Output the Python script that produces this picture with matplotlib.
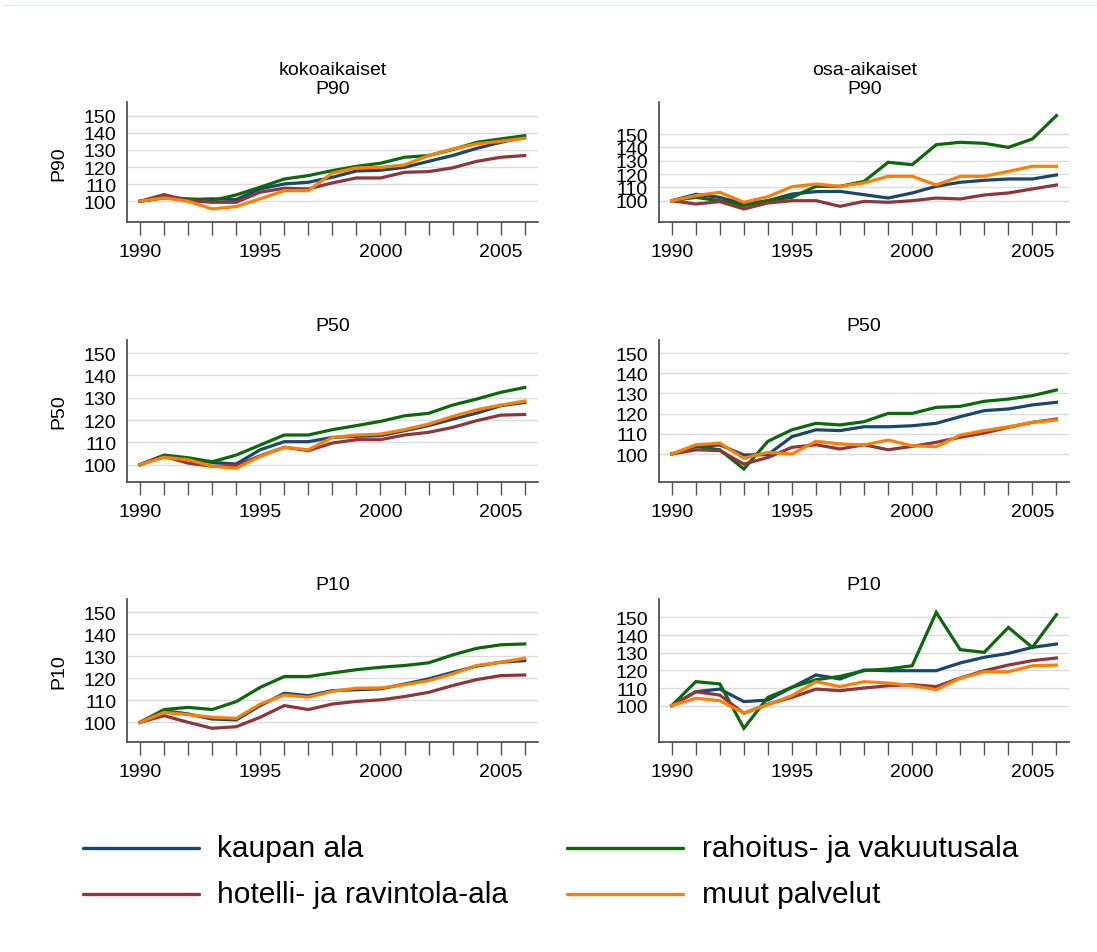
import matplotlib
matplotlib.use("Agg")
import matplotlib.pyplot as plt
from matplotlib.lines import Line2D

plt.rcParams['font.family'] = ['Liberation Sans', 'DejaVu Sans']

years = list(range(1990, 2007))

series_names = ["kaupan ala", "rahoitus- ja vakuutusala", "hotelli- ja ravintola-ala", "muut palvelut"]
colors = ["#1a476f", "#0a6a0a", "#90353b", "#ff8000"]

# kokoaikaiset (full-time)
full_p90_kaupan = [100, 102.0, 101.0, 101.4, 101.0, 107.2, 110.1, 111.1, 114.0, 117.7, 118.1, 119.8, 123.3, 126.7, 130.9, 134.4, 137.4]
full_p90_rahoitus = [100, 102.3, 101.4, 100.4, 103.7, 108.2, 113.0, 115.0, 117.9, 120.4, 122.2, 125.7, 126.7, 130.2, 134.4, 136.4, 138.3]
full_p90_hotelli = [100, 103.9, 100.4, 99.4, 99.4, 105.3, 107.6, 107.2, 110.7, 113.6, 113.6, 116.9, 117.3, 119.5, 123.3, 125.7, 126.7]
full_p90_muut = [100, 102.0, 100.0, 95.5, 96.9, 101.4, 106.2, 106.2, 116.5, 119.5, 119.8, 121.2, 126.7, 130.5, 133.5, 135.0, 136.8]

full_p50_kaupan = [100, 104.0, 102.5, 101.0, 100.3, 106.7, 110.3, 110.3, 112.2, 112.7, 113.0, 115.2, 117.5, 120.4, 123.1, 126.4, 127.9]
full_p50_rahoitus = [100, 104.3, 103.1, 101.3, 104.3, 108.8, 113.3, 113.3, 115.7, 117.5, 119.4, 121.9, 123.0, 126.7, 129.4, 132.4, 134.6]
full_p50_hotelli = [100, 103.7, 100.7, 99.3, 99.6, 104.0, 107.8, 106.3, 109.7, 111.2, 111.2, 113.3, 114.5, 116.7, 119.7, 122.2, 122.5]
full_p50_muut = [100, 103.3, 102.2, 99.3, 98.4, 103.7, 107.8, 106.7, 112.2, 113.3, 113.7, 115.7, 118.2, 121.6, 124.6, 126.7, 128.5]

full_p10_kaupan = [100, 105.3, 103.8, 101.5, 101.1, 107.6, 113.2, 112.1, 114.4, 114.8, 115.2, 117.4, 119.7, 122.7, 125.5, 127.3, 128.0]
full_p10_rahoitus = [100, 105.8, 106.8, 105.8, 109.4, 115.9, 120.8, 120.8, 122.4, 123.9, 125.0, 125.8, 127.0, 130.6, 133.6, 135.2, 135.6]
full_p10_hotelli = [100, 103.0, 100.0, 97.3, 98.0, 102.3, 107.6, 105.8, 108.3, 109.5, 110.2, 111.7, 113.6, 116.7, 119.4, 121.2, 121.5]
full_p10_muut = [100, 104.5, 103.5, 102.3, 101.8, 108.3, 112.4, 111.4, 114.1, 115.5, 115.6, 117.1, 118.9, 122.0, 125.8, 127.3, 129.1]

# osa-aikaiset (part-time)
part_p90_kaupan = [100, 104.8, 102.5, 97.5, 100.0, 105.0, 106.8, 107.0, 104.5, 102.0, 105.8, 110.8, 113.8, 115.3, 116.3, 116.3, 119.3]
part_p90_rahoitus = [100, 102.5, 100.0, 96.3, 100.0, 102.5, 110.8, 110.8, 114.5, 128.8, 127.0, 142.0, 143.8, 143.0, 140.0, 146.3, 163.8]
part_p90_hotelli = [100, 97.5, 99.3, 93.8, 98.3, 100.0, 100.0, 95.8, 99.5, 98.8, 100.0, 102.0, 101.3, 104.3, 105.8, 108.8, 111.8]
part_p90_muut = [100, 103.8, 106.3, 98.8, 103.0, 110.5, 112.5, 110.8, 113.3, 118.3, 118.3, 111.8, 118.3, 118.3, 122.0, 125.8, 125.8]

part_p50_kaupan = [100, 103.8, 104.5, 99.5, 99.7, 108.6, 112.0, 111.6, 113.5, 113.5, 114.0, 115.2, 118.5, 121.5, 122.3, 124.3, 125.6]
part_p50_rahoitus = [100, 103.8, 102.1, 92.6, 106.3, 112.0, 115.2, 114.4, 116.0, 120.1, 120.1, 123.1, 123.6, 126.1, 127.2, 128.9, 131.7]
part_p50_hotelli = [100, 102.1, 101.7, 95.0, 98.3, 103.3, 104.6, 102.5, 104.6, 102.1, 103.8, 105.8, 108.3, 110.4, 113.2, 115.7, 117.3]
part_p50_muut = [100, 104.6, 105.4, 97.9, 100.8, 100.0, 106.3, 105.0, 104.5, 106.9, 104.1, 103.6, 109.4, 111.6, 113.5, 115.7, 116.8]

part_p10_kaupan = [100, 107.9, 109.4, 102.3, 103.2, 110.4, 117.4, 115.1, 120.2, 119.8, 119.8, 119.8, 124.2, 127.4, 129.6, 133.0, 134.9]
part_p10_rahoitus = [100, 113.6, 112.3, 87.2, 104.7, 110.4, 114.7, 116.6, 119.8, 120.8, 122.6, 152.8, 131.7, 130.2, 144.3, 133.0, 151.5]
part_p10_hotelli = [100, 107.9, 106.0, 95.7, 100.9, 104.7, 109.4, 108.5, 110.0, 111.3, 111.9, 110.8, 115.7, 119.8, 123.0, 125.5, 127.0]
part_p10_muut = [100, 104.2, 102.8, 95.8, 100.6, 105.7, 113.6, 110.8, 113.6, 112.8, 111.3, 109.1, 115.5, 119.2, 119.2, 122.6, 123.0]

column_titles = ["kokoaikaiset", "osa-aikaiset"]
row_labels = ["P90", "P50", "P10"]
y_ticks = [100, 110, 120, 130, 140, 150]
x_tick_labels = [1990, 1995, 2000, 2005]

panels = [
    [[full_p90_kaupan, full_p90_rahoitus, full_p90_hotelli, full_p90_muut],
     [part_p90_kaupan, part_p90_rahoitus, part_p90_hotelli, part_p90_muut]],
    [[full_p50_kaupan, full_p50_rahoitus, full_p50_hotelli, full_p50_muut],
     [part_p50_kaupan, part_p50_rahoitus, part_p50_hotelli, part_p50_muut]],
    [[full_p10_kaupan, full_p10_rahoitus, full_p10_hotelli, full_p10_muut],
     [part_p10_kaupan, part_p10_rahoitus, part_p10_hotelli, part_p10_muut]],
]

ylims = [[(87.7, 157.8), (83.8, 173.8)],
         [(92.1, 156.0), (86.0, 156.6)],
         [(91.2, 156.0), (79.6, 160.4)]]

W, H = 1097, 953
fig = plt.figure(figsize=(W / 100, H / 100), dpi=100)
fig.patch.set_facecolor("white")

col_left = [127.3, 659.0]
col_width = 410.4
row_top = [103.3, 340.7, 600.0]
row_bottom = [223.3, 483.3, 742.7]
FS = 14

for r in range(3):
    for c in range(2):
        l = col_left[c] / W
        b = 1 - row_bottom[r] / H
        h = (row_bottom[r] - row_top[r]) / H
        ax = fig.add_axes([l, b, col_width / W, h])
        for i, vals in enumerate(panels[r][c]):
            ax.plot(years, vals, color=colors[i], lw=2.3, solid_joinstyle="miter", zorder=3)
        ax.set_xlim(1989.47, 2006.54)
        ax.set_ylim(*ylims[r][c])
        ax.set_yticks(y_ticks)
        ax.set_yticklabels([str(v) for v in y_ticks])
        ax.set_xticks(years)
        ax.set_xticklabels([str(y) if y in x_tick_labels else "" for y in years])
        ax.grid(axis="y", color="#dcdcdc", lw=1.0, zorder=0)
        ax.set_axisbelow(True)
        for s in ["top", "right"]:
            ax.spines[s].set_visible(False)
        for s in ["left", "bottom"]:
            ax.spines[s].set_color("#444444")
            ax.spines[s].set_linewidth(1.2)
        ax.tick_params(axis="y", length=0, pad=8, labelsize=FS, colors="black")
        ax.tick_params(axis="x", length=9, width=1.0, color="#555555", pad=6, labelsize=FS, labelcolor="black")
        if r == 0:
            ax.set_title(column_titles[c] + "\n" + row_labels[r], fontsize=FS, pad=7, linespacing=1.1)
        else:
            ax.set_title(row_labels[r], fontsize=FS, pad=7)
        if c == 0:
            ax.set_ylabel(row_labels[r], fontsize=FS)
            ax.yaxis.set_label_coords(-0.145, 0.5)

# faint top rule
fig.add_artist(Line2D([3 / W, 1.0], [1 - 6 / H, 1 - 6 / H], transform=fig.transFigure, color="#e6ecec", lw=1.0))

# legend (two columns, filled row-wise)
leg_rows = [849.3, 895.0]
leg_cols = [(83, 199, 217), (567, 683, 702)]
leg_layout = [(0, 0), (0, 1), (1, 0), (1, 1)]  # (row, col) for each series
for i, (rr, cc) in enumerate(leg_layout):
    x0, x1, xt = leg_cols[cc]
    y = 1 - leg_rows[rr] / H
    fig.add_artist(Line2D([x0 / W, x1 / W], [y, y], transform=fig.transFigure, color=colors[i], lw=2.4, solid_capstyle="round"))
    fig.text(xt / W, y, series_names[i], fontsize=21.5, va="center", ha="left")

fig.savefig("out.png", dpi=100)
